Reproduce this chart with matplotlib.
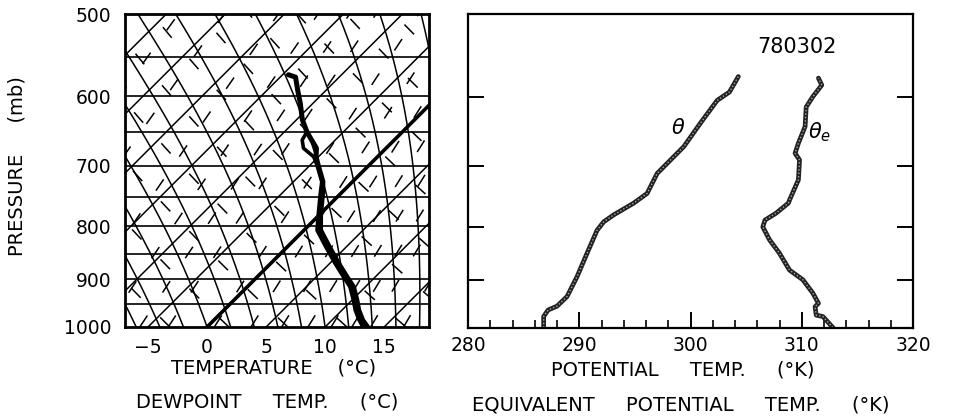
import numpy as np
import matplotlib.pyplot as plt
from matplotlib.ticker import FixedLocator, NullLocator, NullFormatter

# sounding 780302 (pressure mb, temperature / dewpoint C)
snd_p = [572, 575, 592, 609, 632, 649, 661, 673, 686, 699, 725, 747, 780, 807, 838, 868, 895, 915, 942, 963, 985, 1000]
snd_t = [-14.5, -13.7, -12.4, -11.1, -9.5, -8.1, -7.0, -5.9, -5.2, -4.3, -2.5, -1.4, 0.1, 1.4, 3.6, 5.7, 7.6, 9.0, 10.4, 11.4, 12.6, 13.6]
snd_td = [-14.5, -13.7, -12.4, -11.1, -9.5, -8.1, -7.8, -7.0, -5.4, -4.4, -2.6, -1.6, -0.1, 1.1, 3.3, 5.4, 7.3, 8.7, 10.1, 11.1, 12.3, 13.2]

# potential temperature profile (K)
th_p = [999, 975, 961, 953, 933, 893, 848, 806, 791, 779, 759, 743, 711, 670, 636, 605, 594, 574]
th_k = [286.8, 286.8, 287.2, 288.0, 288.9, 289.8, 290.7, 291.6, 292.2, 293.1, 294.9, 296.1, 297.0, 299.4, 300.9, 302.4, 303.5, 304.3]

# equivalent potential temperature profile (K)
the_p = [999, 975, 972, 954, 947, 926, 899, 880, 848, 823, 800, 788, 776, 759, 754, 721, 690, 680, 665, 641, 614, 600, 585, 576]
the_k = [312.8, 311.9, 311.3, 311.2, 311.5, 311.0, 310.1, 308.9, 308.0, 307.1, 306.5, 306.7, 307.7, 308.8, 308.9, 309.7, 309.8, 309.4, 309.7, 310.3, 310.4, 311.0, 311.8, 311.5]

# background lines of the diagram
isobars = [550, 600, 650, 700, 750, 800, 850, 900, 950]
isotherms = list(range(-80, 30, 5))
dry_theta = list(range(230, 345, 5))
moist_tw = list(range(-20, 36, 2))
mix_ratio = [0.4, 0.7, 1, 1.5, 2, 2.5, 3, 4, 5, 6, 7, 8, 9, 10, 12, 14, 16, 18, 20, 24]

SKEW = 38.3


def skew(t, p):
    return np.asarray(t) + SKEW * np.log(1000.0 / np.asarray(p))


def moist_adiabat(t0, pres):
    Rd, cp, L, eps = 287.04, 1005.7, 2.501e6, 0.622
    T = t0 + 273.15
    out = [T]
    for i in range(1, len(pres)):
        p = pres[i - 1]
        es = 6.112 * np.exp(17.67 * (T - 273.15) / (T - 273.15 + 243.5))
        rs = eps * es / (p - es)
        dT = (Rd * T + L * rs) / (cp + L * L * rs * eps / (Rd * T * T))
        T = T + dT * np.log(pres[i] / p)
        out.append(T)
    return np.array(out) - 273.15


fig = plt.figure(figsize=(9.73, 4.18), dpi=100)

# ---------------- skew-T panel
ax = fig.add_axes([125 / 973, 91 / 418, 304 / 973, 313 / 418])
pp = np.geomspace(1000, 480, 200)
dash = (0, (9, 18))

for t in isotherms:
    ax.plot(skew([t, t], [1000, 480]), [1000, 480], color='black',
            lw=2.6 if t == 0 else 1.1)
for th in dry_theta:
    tt = th * (pp / 1000.0) ** 0.286 - 273.15
    ax.plot(skew(tt, pp), pp, ls=dash, color='black', lw=1.1)
for tw in moist_tw:
    ax.plot(skew(moist_adiabat(tw, pp), pp), pp, color='black', lw=1.1)
for w in mix_ratio:
    e = (w / 1000.0) * pp / (0.622 + w / 1000.0)
    lg = np.log(e / 6.112)
    td = 243.5 * lg / (17.67 - lg)
    ax.plot(skew(td, pp), pp, ls=dash, color='black', lw=1.1)
for p in isobars:
    ax.axhline(p, color='black', lw=1.2)

ax.plot(skew(snd_td, snd_p), snd_p, color='black', lw=2.6, solid_capstyle='round')
ax.plot(skew(snd_t, snd_p), snd_p, color='black', lw=3.6, solid_capstyle='round')

ax.set_yscale('log')
ax.set_ylim(1000, 500)
ax.set_xlim(-6.95, 18.8)
ax.yaxis.set_major_locator(FixedLocator([500, 600, 700, 800, 900, 1000]))
ax.yaxis.set_major_formatter(plt.FuncFormatter(lambda v, _: '%d' % v))
ax.yaxis.set_minor_locator(NullLocator())
ax.yaxis.set_minor_formatter(NullFormatter())
ax.set_xticks([-5, 0, 5, 10, 15])
ax.tick_params(axis='both', length=0, labelsize=13.5)
ax.tick_params(axis='y', pad=10)
ax.tick_params(axis='x', pad=8)
for s in ax.spines.values():
    s.set_linewidth(2.0)

# ---------------- potential temperature panel
ax2 = fig.add_axes([468 / 973, 90 / 418, 445 / 973, 314 / 418])
ax2.plot(th_k, th_p, color='#222222', lw=3.4, solid_capstyle='round')
ax2.plot(th_k, th_p, color='#aaaaaa', lw=1.0, ls=(0, (1, 1.5)))
ax2.plot(the_k, the_p, color='#222222', lw=3.4, solid_capstyle='round')
ax2.plot(the_k, the_p, color='#aaaaaa', lw=1.0, ls=(0, (1, 1.5)))

ax2.set_yscale('log')
ax2.set_ylim(1000, 500)
ax2.set_xlim(280, 320)
ax2.yaxis.set_major_locator(FixedLocator([600, 700, 800, 900]))
ax2.yaxis.set_minor_locator(NullLocator())
ax2.yaxis.set_major_formatter(NullFormatter())
ax2.yaxis.set_minor_formatter(NullFormatter())
ax2.set_xticks([280, 290, 300, 310, 320])
ax2.set_xticks(np.arange(280, 321, 2), minor=True)
ax2.tick_params(axis='y', direction='in', length=11.5, width=1.4, left=True, right=True)
ax2.tick_params(axis='x', which='major', direction='in', length=11.5, width=1.4, labelsize=13.5, pad=6)
ax2.tick_params(axis='x', which='minor', direction='in', length=6, width=1.2)
for s in ax2.spines.values():
    s.set_linewidth(1.6)

ax2.text(298.9, 643, r'$\theta$', fontsize=15, ha='center', va='center')
ax2.text(311.6, 649, r'$\theta_e$', fontsize=15, ha='center', va='center')
ax2.text(309.6, 538, '780302', fontsize=15, ha='center', va='center')

# ---------------- axis titles
fig.text(274 / 973, 1 - 368 / 418, 'TEMPERATURE    (°C)', ha='center', va='center', fontsize=14)
fig.text(267 / 973, 1 - 402 / 418, 'DEWPOINT     TEMP.     (°C)', ha='center', va='center', fontsize=14)
fig.text(683 / 973, 1 - 370 / 418, 'POTENTIAL     TEMP.     (°K)', ha='center', va='center', fontsize=14)
fig.text(681 / 973, 1 - 405 / 418, 'EQUIVALENT     POTENTIAL     TEMP.     (°K)', ha='center', va='center', fontsize=14)
fig.text(17 / 973, 1 - 166 / 418, 'PRESSURE     (mb)', ha='center', va='center', fontsize=14, rotation=90)

fig.savefig('out.png', dpi=100)
